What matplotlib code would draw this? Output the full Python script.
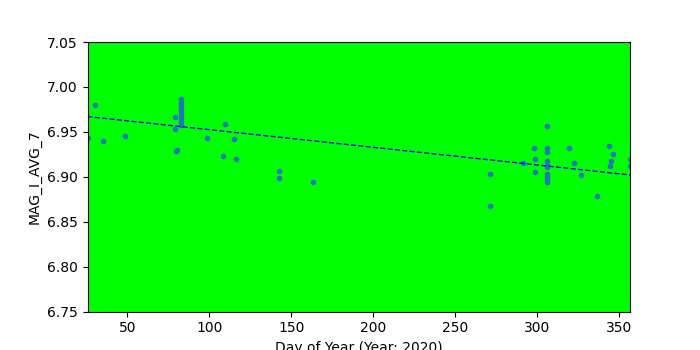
import matplotlib
matplotlib.use('Agg')
import matplotlib.pyplot as plt
import numpy as np

# day of year and magnitude
days = [25.6, 30.4, 35.3, 48.4, 78.9, 79.0, 79.7, 80.2,
        82.6, 82.6, 82.6, 82.6, 82.6, 82.6, 82.6, 82.6, 82.6, 82.6,
        98.4, 109.5, 108.3, 115.0, 116.2,
        142.5, 142.5, 163.3,
        271.5, 271.5, 291.6, 298.3, 299.0, 299.0,
        306.3, 306.3, 306.3, 306.3, 306.3, 306.3, 306.3, 306.3, 306.3, 306.3,
        319.7, 322.8, 327.0, 336.8, 344.2, 346.6, 345.4, 344.8, 356.8, 356.8]
mags = [6.943, 6.980, 6.940, 6.945, 6.966, 6.953, 6.929, 6.930,
        6.958, 6.961, 6.964, 6.967, 6.970, 6.973, 6.976, 6.979, 6.982, 6.986,
        6.943, 6.959, 6.923, 6.942, 6.920,
        6.906, 6.899, 6.894,
        6.903, 6.867, 6.915, 6.932, 6.920, 6.905,
        6.956, 6.932, 6.927, 6.917, 6.913, 6.911, 6.903, 6.900, 6.897, 6.894,
        6.932, 6.915, 6.902, 6.879, 6.934, 6.925, 6.918, 6.912, 6.920, 6.912]

# trend line values at first and last day
trend = [6.967, 6.902]

x = np.array(days)
y = np.array(mags)

fig, ax = plt.subplots(figsize=(7, 3.5), dpi=100)
ax.set_facecolor('#00ff00')
ax.scatter(x, y, s=9, color='tab:blue', zorder=2)

xx = [x.min(), x.max()]
ax.plot(xx, trend, 'b--', linewidth=1, zorder=3)

ax.set_xlim(x.min(), x.max())
ax.set_ylim(6.75, 7.05)
ax.set_xlabel('Day of Year (Year: 2020)')
ax.set_ylabel('MAG_I_AVG_7')

fig.savefig('out.png')
